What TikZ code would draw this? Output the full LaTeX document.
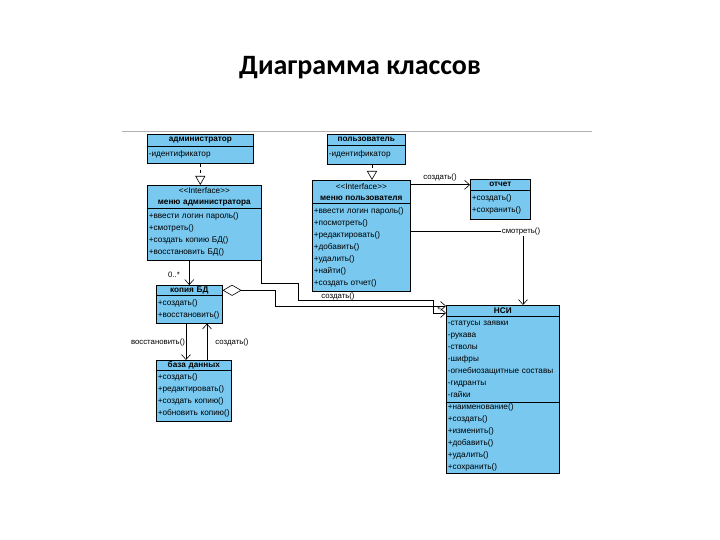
\documentclass[tikz,border=0pt]{standalone}
\usepackage{fontspec}
\setmainfont{Liberation Sans}
\newfontfamily\ttlfont{Carlito}
\usetikzlibrary{arrows.meta}
\definecolor{umlblue}{RGB}{120,200,240}

\tikzset{
  cls/.style={draw, fill=umlblue, line width=0.6pt, anchor=north west, inner xsep=1.5pt, inner ysep=0pt, font=\fontsize{8.2}{12}\selectfont},
  hdr/.style={cls, align=center, font=\fontsize{8.2}{11}\selectfont\bfseries},
  body/.style={cls, align=left},
  lbl/.style={font=\fontsize{7.8}{9}\selectfont, inner sep=1pt},
  dep/.style={-{Straight Barb[length=5pt,width=9pt]}, line width=0.6pt},
  real/.style={dashed, -{Triangle[open,length=9pt,width=10pt,fill=white]}, line width=0.6pt},
}

\begin{document}
\begin{tikzpicture}[x=1pt,y=-1pt]
    \useasboundingbox (0,0) rectangle (720,540);
    \node[font=\ttlfont\bfseries\fontsize{28}{30}\selectfont] (title) at (360,68) {Диаграмма классов};
    \draw[gray!60, line width=0.8pt] (122,131) -- (592,131);

    % классы
    \node[hdr, text width=103pt, minimum height=12pt] (adm) at (147,134) {администратор};
    \node[body, text width=103pt, minimum height=17pt] (admA) at (147,146) {-идентификатор};

    \node[hdr, text width=111pt, minimum height=23pt] (madm) at (147,185) {{\mdseries {<}{<}Interface{>}{>}}\\меню администратора};
    \node[body, text width=111pt, minimum height=52pt] (madmM) at (147,208) {+ввести логин пароль()\\+смотреть()\\+создать копию БД()\\+восстановить БД()};

    \node[hdr, text width=75pt, minimum height=11pt] (usr) at (327,134) {пользователь};
    \node[body, text width=75pt, minimum height=19pt] (usrA) at (327,145) {-идентификатор};

    \node[hdr, text width=95pt, minimum height=23pt] (musr) at (312,180) {{\mdseries {<}{<}Interface{>}{>}}\\меню пользователя};
    \node[body, text width=95pt, minimum height=88pt] (musrM) at (312,203) {+ввести логин пароль()\\+посмотреть()\\+редактировать()\\+добавить()\\+удалить()\\+найти()\\+создать отчет()};

    \node[hdr, text width=57pt, minimum height=11pt] (rep) at (470,179) {отчет};
    \node[body, text width=57pt, minimum height=29pt] (repM) at (470,190) {+создать()\\+сохранить()};

    \node[hdr, text width=63pt, minimum height=10pt] (copyH) at (156,285) {копия БД};
    \node[body, text width=63pt, minimum height=28pt] (copyM) at (156,295) {+создать()\\+восстановить()};

    \node[hdr, text width=72pt, minimum height=10pt] (dbH) at (156,360) {база данных};
    \node[body, text width=72pt, minimum height=51pt] (dbM) at (156,370) {+создать()\\+редактировать()\\+создать копию()\\+обновить копию()};

    \node[hdr, text width=110pt, minimum height=11pt] (nsi) at (446,305) {НСИ};
    \node[body, text width=110pt, minimum height=86pt] (nsiA) at (446,316) {-статусы заявки\\-рукава\\-стволы\\-шифры\\-огнебиозащитные составы\\-гидранты\\-гайки};
    \node[body, text width=110pt, minimum height=71pt] (nsiM) at (446,402) {+наименование()\\+создать()\\+изменить()\\+добавить()\\+удалить()\\+сохранить()};

    % связи
    \coordinate (usrT) at (372,0);
    \coordinate (smt) at (523,231);
    \coordinate (bA1) at (298,283);
    \coordinate (bA2) at (433,300);
    \coordinate (bB) at (275,306);
    \coordinate (cL) at (186,0);
    \coordinate (cR) at (207,0);

    \draw[real] (admA.south) -- (admA.south |- madm.north);
    \draw[real] (usrA.south -| usrT) -- (musr.north -| usrT);
    \draw[dep] (musr.east |- rep.west) -- (rep.west);
    \draw[dep] (musrM.east |- smt) -| (nsi.north -| smt);
    \draw[dep] (madmM.south east) |- (bA1) |- (bA2) |- (nsi.west |- 0,313);
    \draw[{Diamond[open,fill=white,length=19pt,width=11pt]}-{Straight Barb[length=5pt,width=9pt]}, line width=0.6pt] (copyH.east) -| (bB) -- (nsi.west |- bB);
    \draw[dep] (madmM.south -| copyH.north) -- (copyH.north);
    \draw[dep] (copyM.south -| cL) -- (dbH.north -| cL);
    \draw[dep] (dbH.north -| cR) -- (copyM.south -| cR);

    % подписи
    \node[lbl] (lRep) at (440,177) {создать()};
    \node[lbl, fill=white] (lSee) at ([xshift=-2pt]smt) {смотреть()};
    \node[lbl] (lNsi) at (338,296) {создать()};
    \node[lbl] (lStar) at (439,310) {*};
    \node[lbl] (lMult) at (174,275) {0..*};
    \node[lbl] (lRest) at (158,342) {восстановить()};
    \node[lbl] (lMake) at (232,342) {создать()};
\end{tikzpicture}
\end{document}
